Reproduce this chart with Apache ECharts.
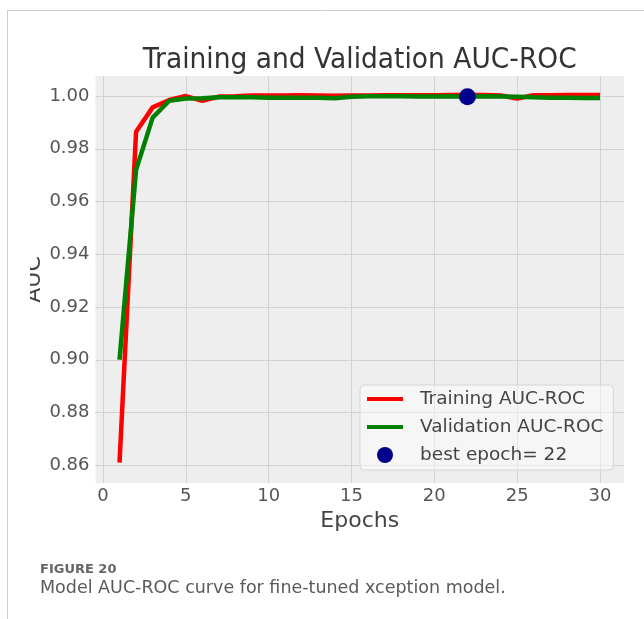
<!DOCTYPE html>
<html>
<head>
<meta charset="utf-8">
<title>Training and Validation AUC-ROC</title>
<script src="https://cdn.jsdelivr.net/npm/echarts@6/dist/echarts.min.js"></script>
<style>
  html, body { margin: 0; padding: 0; background: #ffffff; }
  #chart { width: 644px; height: 619px; }
</style>
</head>
<body>
<div id="chart"></div>
<script>
// Epoch numbers on the x axis
const epochs = [1, 2, 3, 4, 5, 6, 7, 8, 9, 10, 11, 12, 13, 14, 15,
                16, 17, 18, 19, 20, 21, 22, 23, 24, 25, 26, 27, 28, 29, 30];

// AUC-ROC per epoch
const trainingAuc = [0.861, 0.9865, 0.9957, 0.9985, 1.0000, 0.9982, 0.9998, 0.9999, 1.0002, 1.0002,
                     1.0002, 1.0003, 1.0002, 1.0001, 1.0002, 1.0002, 1.0003, 1.0003, 1.0003, 1.0003,
                     1.0004, 1.0004, 1.0004, 1.0002, 0.9991, 1.0003, 1.0003, 1.0004, 1.0004, 1.0004];
const validationAuc = [0.900, 0.972, 0.9918, 0.9982, 0.9991, 0.9992, 0.9995, 0.9995, 0.9995, 0.9994,
                       0.9994, 0.9994, 0.9994, 0.9992, 0.9997, 0.9999, 0.9999, 0.9999, 0.9998, 0.9998,
                       0.9999, 0.9997, 0.9999, 0.9998, 0.9997, 0.9995, 0.9994, 0.9994, 0.9993, 0.9993];

// Epoch with the best validation score
const bestEpoch = 22;
const bestAuc = validationAuc[bestEpoch - 1];

// Tick positions
const xTicks = [0, 5, 10, 15, 20, 25, 30];
const yTicks = [0.86, 0.88, 0.90, 0.92, 0.94, 0.96, 0.98, 1.00];

// Texts
const seriesNames = ['Training AUC-ROC', 'Validation AUC-ROC', 'best epoch= ' + bestEpoch];
const chartTitle = 'Training and Validation AUC-ROC';
const xAxisName = 'Epochs';
const yAxisName = 'AUC';
const figureLabel = 'FIGURE 20';
const figureCaption = 'Model AUC-ROC curve for fine-tuned xception model.';

const FONT = 'DejaVu Sans';
const chart = echarts.init(document.getElementById('chart'), null, { renderer: 'canvas' });

const linePath = 'path://M0,0 L36,0 L36,4 L0,4 Z';
const gridLine = { show: true, lineStyle: { color: '#d2d2d2', width: 1 } };

chart.setOption({
  animation: false,
  backgroundColor: '#ffffff',
  grid: {
    left: 95.5, right: 20, top: 76, bottom: 136,
    show: true, backgroundColor: '#eeeeee', borderWidth: 0
  },
  legend: {
    orient: 'vertical',
    left: 360, top: 385,
    padding: [4, 10, 5, 7],
    itemWidth: 36, itemHeight: 16, itemGap: 8,
    symbolKeepAspect: true,
    backgroundColor: 'rgba(255,255,255,0.45)',
    borderColor: '#d6d6d6', borderWidth: 1, borderRadius: 4,
    textStyle: { fontFamily: FONT, fontSize: 18.5, color: '#444444', lineHeight: 20, padding: [0, 0, 0, 12] },
    data: [
      { name: seriesNames[0], icon: linePath, itemStyle: { color: '#ff0000' } },
      { name: seriesNames[1], icon: linePath, itemStyle: { color: '#008000' } },
      { name: seriesNames[2], icon: 'circle', itemStyle: { color: '#00008b', opacity: 1 } }
    ]
  },
  xAxis: {
    type: 'value', min: -0.45, max: 31.45,
    name: xAxisName, nameLocation: 'middle', nameGap: 27, nameMoveOverlap: false,
    nameTextStyle: { fontFamily: FONT, fontSize: 22, color: '#444444' },
    axisLine: { show: false },
    axisTick: { show: false, customValues: xTicks },
    axisLabel: {
      margin: 4, fontFamily: FONT, fontSize: 18, color: '#555555',
      customValues: xTicks,
      formatter: v => String(v)
    },
    splitLine: gridLine
  },
  yAxis: {
    type: 'value', min: 0.8533, max: 1.0076,
    name: yAxisName, nameLocation: 'middle', nameGap: 50, nameMoveOverlap: false,
    nameTextStyle: { fontFamily: FONT, fontSize: 22, color: '#444444' },
    axisLine: { show: false },
    axisTick: { show: false, customValues: yTicks },
    axisLabel: {
      margin: 6, fontFamily: FONT, fontSize: 18, color: '#555555',
      customValues: yTicks,
      formatter: v => v.toFixed(2)
    },
    splitLine: gridLine
  },
  series: [
    {
      name: seriesNames[0], type: 'line', showSymbol: false, symbol: 'none',
      data: epochs.map((e, i) => [e, trainingAuc[i]]),
      lineStyle: { color: '#ff0000', width: 4.5 }, itemStyle: { color: '#ff0000' }, z: 2
    },
    {
      name: seriesNames[1], type: 'line', showSymbol: false, symbol: 'none',
      data: epochs.map((e, i) => [e, validationAuc[i]]),
      lineStyle: { color: '#008000', width: 4.5 }, itemStyle: { color: '#008000' }, z: 3
    },
    {
      name: seriesNames[2], type: 'scatter', symbol: 'circle', symbolSize: 17,
      data: [[bestEpoch, bestAuc]],
      itemStyle: { color: '#00008b', opacity: 1 }, z: 4
    }
  ],
  graphic: [
    {
      type: 'text', x: 359.7, y: 60, scaleY: 1.1, z: 100,
      style: { text: chartTitle, fontFamily: FONT, fontSize: 26.5, fill: '#333333', textAlign: 'center', textVerticalAlign: 'middle' }
    },
    { type: 'line', shape: { x1: 7, y1: 10.5, x2: 644, y2: 10.5 }, style: { stroke: '#cccccc', lineWidth: 1 }, z: 100 },
    { type: 'line', shape: { x1: 7.5, y1: 10, x2: 7.5, y2: 619 }, style: { stroke: '#cccccc', lineWidth: 1 }, z: 100 },
    // the figure panel starts at x=30; anything to its left stays blank
    { type: 'rect', shape: { x: 8, y: 200, width: 22, height: 160 }, style: { fill: '#ffffff' }, z: 100 },
    {
      type: 'text', x: 40, y: 570, z: 100,
      style: { text: figureLabel, fontFamily: FONT, fontSize: 13, fontWeight: 'bold', fill: '#666666', textVerticalAlign: 'middle' }
    },
    {
      type: 'text', x: 40, y: 588, z: 100,
      style: { text: figureCaption, fontFamily: FONT, fontSize: 17.5, fill: '#5a5a5a', textVerticalAlign: 'middle' }
    }
  ]
});
</script>
</body>
</html>
